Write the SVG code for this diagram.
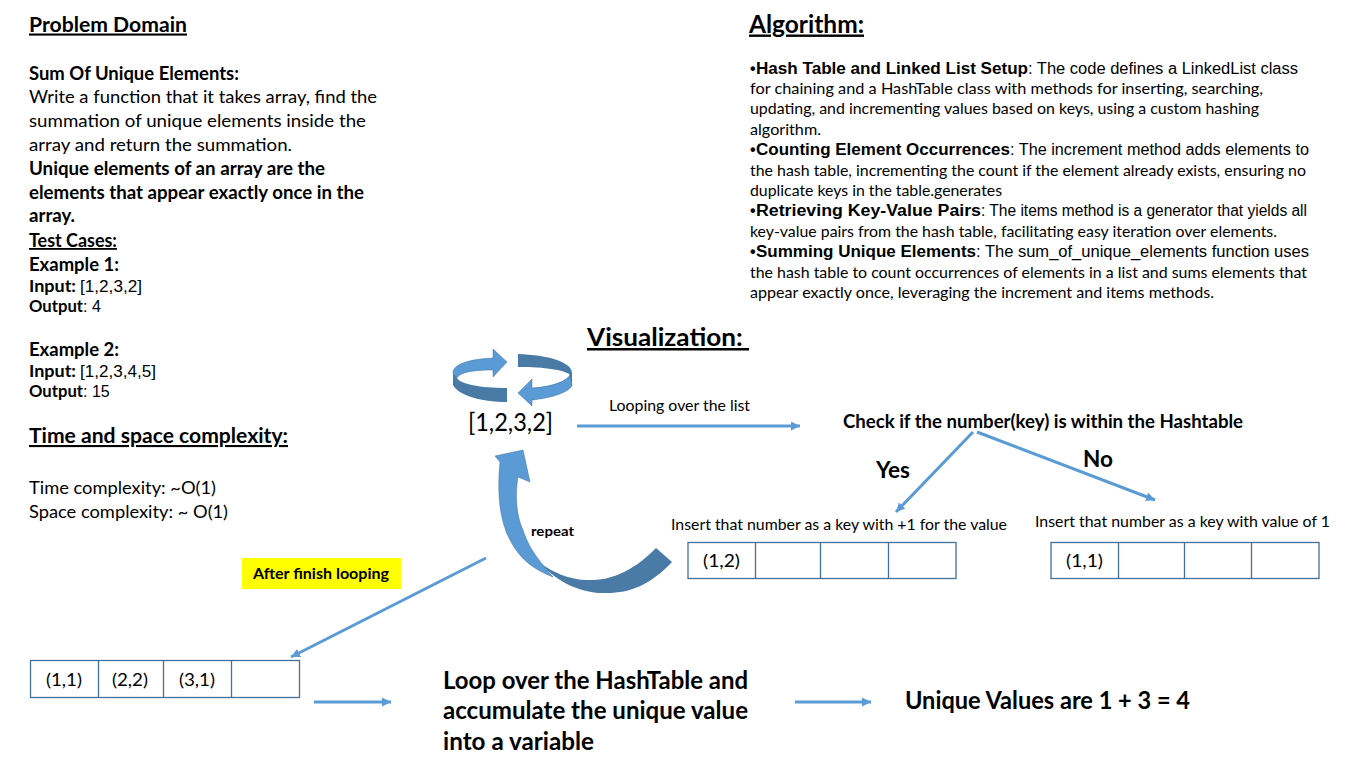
<svg xmlns="http://www.w3.org/2000/svg" width="1366" height="768" viewBox="0 0 1366 768">
<style>
text{font-family:"Lato","Carlito","Noto Sans",sans-serif;fill:#000;white-space:pre}
.b{font-weight:700}
.u{text-decoration:underline}
.a{font-family:"Liberation Sans",Arial,sans-serif}
.s18{font-size:18px}
.s17{font-size:17px}
.s16{font-size:16px}
.cell{fill:#fff;stroke:#41719c;stroke-width:1.3}
.c{fill:none;stroke:#5b9bd5;stroke-width:3}
.lt{fill:#5b9bd5;stroke:#41719c;stroke-width:.5}
.dk{fill:#4a7ba7}
</style>
<defs>
<marker id="ah" markerUnits="userSpaceOnUse" markerWidth="10" markerHeight="10" refX="9" refY="4.5" orient="auto"><path d="M0 0L9 4.5L0 9z" fill="#5b9bd5"/></marker>
</defs>
<rect width="1366" height="768" fill="#fff"/>
<g id="problem-domain">
<text x="29" y="31.500" class="b u" font-size="21" textLength="158" lengthAdjust="spacingAndGlyphs">Problem Domain</text>
<text x="29" y="80" class="b s18" textLength="210" lengthAdjust="spacingAndGlyphs">Sum Of Unique Elements:</text>
<text x="29" y="103" class="s18" textLength="348" lengthAdjust="spacingAndGlyphs">Write a function that it takes array, find the</text>
<text x="29" y="127" class="s18" textLength="337" lengthAdjust="spacingAndGlyphs">summation of unique elements inside the</text>
<text x="29" y="151" class="s18" textLength="263" lengthAdjust="spacingAndGlyphs">array and return the summation.</text>
<text x="29" y="175" class="b s18" textLength="296" lengthAdjust="spacingAndGlyphs">Unique elements of an array are the</text>
<text x="29" y="199" class="b s18" textLength="335" lengthAdjust="spacingAndGlyphs">elements that appear exactly once in the</text>
<text x="29" y="222" class="b s18" textLength="46" lengthAdjust="spacingAndGlyphs">array.</text>
<text x="29" y="247" class="b u s18" textLength="88" lengthAdjust="spacingAndGlyphs">Test Cases:</text>
<text x="29" y="271" class="b s18" textLength="90" lengthAdjust="spacingAndGlyphs">Example 1:</text>
<text x="29" y="292" class="b s17" textLength="47" lengthAdjust="spacingAndGlyphs">Input:</text>
<text x="80" y="292" class="a s16" textLength="62" lengthAdjust="spacingAndGlyphs">[1,2,3,2]</text>
<text x="29" y="312" class="b s17" textLength="54" lengthAdjust="spacingAndGlyphs">Output</text>
<text x="83" y="312" class="a s16">: 4</text>
<text x="29" y="356" class="b s18" textLength="90" lengthAdjust="spacingAndGlyphs">Example 2:</text>
<text x="29" y="377" class="b s17" textLength="47" lengthAdjust="spacingAndGlyphs">Input:</text>
<text x="80" y="377" class="a s16" textLength="76" lengthAdjust="spacingAndGlyphs">[1,2,3,4,5]</text>
<text x="29" y="397" class="b s17" textLength="54" lengthAdjust="spacingAndGlyphs">Output</text>
<text x="83" y="397" class="a s16">: 15</text>
<text x="29" y="443" class="b u" font-size="21" textLength="259" lengthAdjust="spacingAndGlyphs">Time and space complexity:</text>
<text x="29" y="494" class="s18" textLength="187" lengthAdjust="spacingAndGlyphs">Time complexity: ~O(1)</text>
<text x="29" y="518" class="s18" textLength="199" lengthAdjust="spacingAndGlyphs">Space complexity: ~ O(1)</text>
</g>
<g id="algorithm">
<text x="749" y="32.500" class="b u" font-size="24" textLength="115" lengthAdjust="spacingAndGlyphs">Algorithm:</text>
<text x="750" y="74" class="a b s16">•</text>
<text x="756" y="74" class="a b s16" textLength="272" lengthAdjust="spacingAndGlyphs">Hash Table and Linked List Setup</text>
<text x="1028" y="74" class="a s16" textLength="270" lengthAdjust="spacingAndGlyphs">: The code defines a LinkedList class</text>
<text x="750" y="94" class="s16" textLength="513" lengthAdjust="spacingAndGlyphs">for chaining and a HashTable class with methods for inserting, searching,</text>
<text x="750" y="114" class="s16" textLength="509" lengthAdjust="spacingAndGlyphs">updating, and incrementing values based on keys, using a custom hashing</text>
<text x="750" y="135" class="s16" textLength="71" lengthAdjust="spacingAndGlyphs">algorithm.</text>
<text x="750" y="155" class="a b s16">•</text>
<text x="756" y="155" class="a b s16" textLength="254" lengthAdjust="spacingAndGlyphs">Counting Element Occurrences</text>
<text x="1010" y="155" class="a s16" textLength="299" lengthAdjust="spacingAndGlyphs">: The increment method adds elements to</text>
<text x="750" y="176" class="s16" textLength="556" lengthAdjust="spacingAndGlyphs">the hash table, incrementing the count if the element already exists, ensuring no</text>
<text x="750" y="196" class="s16" textLength="252" lengthAdjust="spacingAndGlyphs">duplicate keys in the table.generates</text>
<text x="750" y="216" class="a b s16">•</text>
<text x="756" y="216" class="a b s16" textLength="225" lengthAdjust="spacingAndGlyphs">Retrieving Key-Value Pairs</text>
<text x="981" y="216" class="a s16" textLength="326" lengthAdjust="spacingAndGlyphs">: The items method is a generator that yields all</text>
<text x="750" y="237" class="s16" textLength="527" lengthAdjust="spacingAndGlyphs">key-value pairs from the hash table, facilitating easy iteration over elements.</text>
<text x="750" y="257" class="a b s16">•</text>
<text x="756" y="257" class="a b s16" textLength="220" lengthAdjust="spacingAndGlyphs">Summing Unique Elements</text>
<text x="976" y="257" class="a s16" textLength="333" lengthAdjust="spacingAndGlyphs">: The sum_of_unique_elements function uses</text>
<text x="750" y="278" class="s16" textLength="557" lengthAdjust="spacingAndGlyphs">the hash table to count occurrences of elements in a list and sums elements that</text>
<text x="750" y="298" class="s16" textLength="464" lengthAdjust="spacingAndGlyphs">appear exactly once, leveraging the increment and items methods.</text>
</g>
<g id="visualization-title"><text x="587" y="346" class="b u" font-size="25" textLength="162" lengthAdjust="spacingAndGlyphs">Visualization: </text></g>
<g id="loop-icon">
<path class="dk" d="M453 373L453 385C458 395 480 402 507 402L507 388C480 388 460 384 457 378z"/>
<path class="lt" d="M493 349L507 362L493 377L493 370C475 370 460 372 457 378L453 373C453 364 470 359 493 358z"/>
<path class="dk" d="M518 354C548 355 572 362 572 373L572 385C570 390 552 396 532 400L532 388C550 387 566 382 570 375C566 370 545 367 518 367z"/>
<path class="lt" d="M518 393L532 379L532 388C550 387 566 382 570 375L572 385C570 392 552 398 532 400L532 406z"/>
</g>
<g id="source-list"><text x="468" y="431" font-size="25" textLength="85" lengthAdjust="spacingAndGlyphs">[1,2,3,2]</text></g>
<g id="repeat-arrow">
<path class="dk" d="M540 563C552 572 570 580 587 580C605 581 630 575 656 548L672 562C650 585 630 593 607 593C585 594 560 585 540 563z"/>
<path class="lt" d="M523 450L530 482L518 477C515 495 516 515 523 530C528 545 534 555 553 577C535 570 520 560 510 540C499 520 497 490 500 462L495 456z"/>
<text x="531" y="536" class="b" font-size="13.5" textLength="43" lengthAdjust="spacingAndGlyphs">repeat</text>
</g>
<g id="connectors">
<path class="c" marker-end="url(#ah)" d="M577 426L800 426"/>
<path class="c" marker-end="url(#ah)" d="M973 432L896 512"/>
<path class="c" marker-end="url(#ah)" d="M977 432L1155 500"/>
<path class="c" marker-end="url(#ah)" d="M486 558L291 657"/>
<path class="c" marker-end="url(#ah)" d="M314 702L391 702"/>
<path class="c" marker-end="url(#ah)" d="M795 702L871 702"/>
</g>
<g id="loop-label"><text x="609" y="411" font-size="15" textLength="141" lengthAdjust="spacingAndGlyphs">Looping over the list</text></g>
<g id="check"><text x="843" y="428" class="b" font-size="18" textLength="400" lengthAdjust="spacingAndGlyphs">Check if the number(key) is within the Hashtable</text></g>
<g id="yes"><text x="876" y="478" class="b" font-size="22" textLength="34" lengthAdjust="spacingAndGlyphs">Yes</text></g>
<g id="no"><text x="1083" y="467" class="b" font-size="22" textLength="30" lengthAdjust="spacingAndGlyphs">No</text></g>
<g id="insert-yes">
<text x="671" y="530" font-size="15" textLength="336" lengthAdjust="spacingAndGlyphs">Insert that number as a key with +1 for the value</text>
<rect class="cell" x="688" y="542.500" width="268" height="36"/>
<path class="cell" d="M755.500 542.500V578.500M820.500 542.500V578.500M888.500 542.500V578.500"/>
<text x="703" y="567" font-size="18" textLength="37" lengthAdjust="spacingAndGlyphs">(1,2)</text>
</g>
<g id="insert-no">
<text x="1035" y="527" font-size="15" textLength="295" lengthAdjust="spacingAndGlyphs">Insert that number as a key with value of 1</text>
<rect class="cell" x="1051" y="542.500" width="268" height="36"/>
<path class="cell" d="M1118.500 542.500V578.500M1184.500 542.500V578.500M1251.500 542.500V578.500"/>
<text x="1066" y="567" font-size="18" textLength="37" lengthAdjust="spacingAndGlyphs">(1,1)</text>
</g>
<g id="after-looping">
<rect x="242" y="558" width="159" height="31" fill="#ff0"/>
<text x="253" y="579" class="b" font-size="15" textLength="136" lengthAdjust="spacingAndGlyphs">After finish looping</text>
</g>
<g id="final-table">
<rect class="cell" x="30.500" y="660.500" width="269" height="37"/>
<path class="cell" d="M98.500 660.500V697.500M163.500 660.500V697.500M231.500 660.500V697.500"/>
<text x="46" y="686" font-size="18" textLength="36" lengthAdjust="spacingAndGlyphs">(1,1)</text>
<text x="112" y="686" font-size="18" textLength="36" lengthAdjust="spacingAndGlyphs">(2,2)</text>
<text x="179" y="686" font-size="18" textLength="36" lengthAdjust="spacingAndGlyphs">(3,1)</text>
</g>
<g id="accumulate">
<text x="443" y="689" class="b" font-size="24" textLength="305" lengthAdjust="spacingAndGlyphs">Loop over the HashTable and</text>
<text x="443" y="719" class="b" font-size="24" textLength="305" lengthAdjust="spacingAndGlyphs">accumulate the unique value</text>
<text x="443" y="750" class="b" font-size="24" textLength="151" lengthAdjust="spacingAndGlyphs">into a variable</text>
</g>
<g id="result"><text x="905" y="709" class="b" font-size="24" textLength="285" lengthAdjust="spacingAndGlyphs">Unique Values are 1 + 3 = 4</text></g>
</svg>
